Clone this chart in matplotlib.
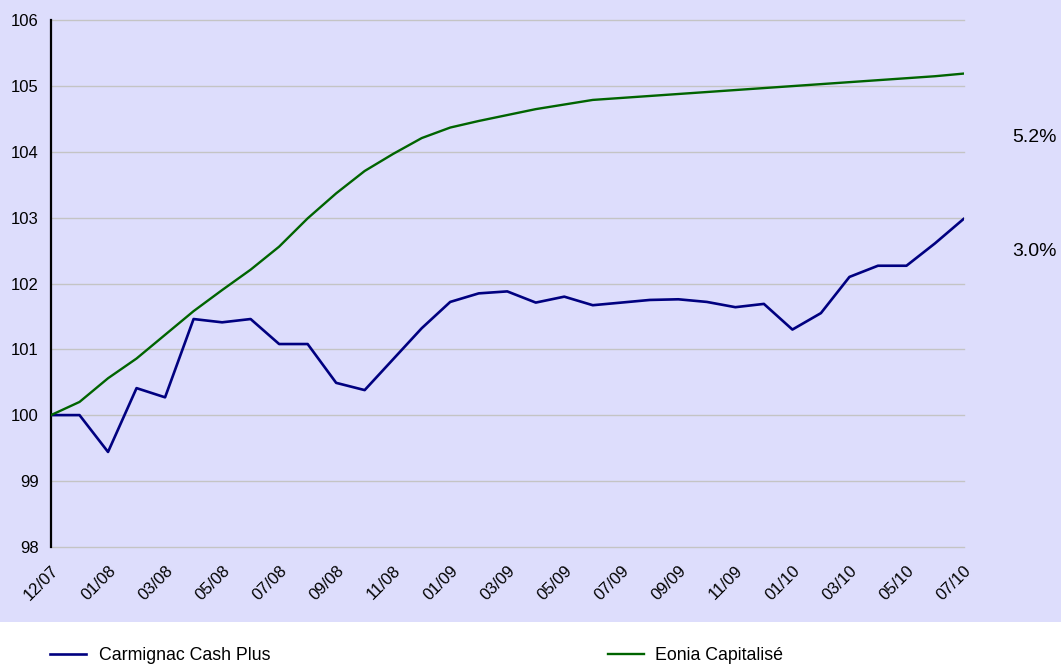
import matplotlib
matplotlib.use("Agg")
import matplotlib.pyplot as plt
import matplotlib.transforms as mtransforms
from matplotlib.patches import Rectangle

plt.rcParams['font.family'] = ['Liberation Sans', 'DejaVu Sans']

# ---- data ----
dates = ["12/07", "12/07", "01/08", "02/08", "03/08", "04/08", "05/08", "06/08",
         "07/08", "08/08", "09/08", "10/08", "11/08", "12/08", "01/09", "02/09",
         "03/09", "04/09", "05/09", "06/09", "07/09", "08/09", "09/09", "10/09",
         "11/09", "12/09", "01/10", "02/10", "03/10", "04/10", "05/10", "06/10",
         "07/10"]
carmignac = [100.00, 100.00, 99.44, 100.41, 100.27, 101.46, 101.41, 101.46,
             101.08, 101.08, 100.49, 100.38, 100.85, 101.32, 101.72, 101.85,
             101.88, 101.71, 101.80, 101.67, 101.71, 101.75, 101.76, 101.72,
             101.64, 101.69, 101.30, 101.55, 102.10, 102.27, 102.27, 102.61,
             102.98]
eonia = [100.00, 100.20, 100.56, 100.86, 101.22, 101.58, 101.90, 102.21,
         102.56, 102.99, 103.37, 103.71, 103.97, 104.21, 104.37, 104.47,
         104.56, 104.65, 104.72, 104.79, 104.82, 104.85, 104.88, 104.91,
         104.94, 104.97, 105.00, 105.03, 105.06, 105.09, 105.12, 105.15,
         105.19]
series_names = ["Carmignac Cash Plus", "Eonia Capitalisé"]
perf_labels = ["5.2%", "3.0%"]
yticks = [98, 99, 100, 101, 102, 103, 104, 105, 106]

W, H = 1061, 665
fig = plt.figure(figsize=(W / 100, H / 100), dpi=100, facecolor='white')

# lavender background panel
bg = Rectangle((0, (H - 621.5) / H), 1, 621.5 / H, transform=fig.transFigure,
               facecolor='#DDDDFC', edgecolor='none', zorder=-10)
fig.patches.append(bg)

ax = fig.add_axes([51 / W, (H - 546.7) / H, (963.5 - 51) / W, (546.7 - 20.3) / H])
ax.set_facecolor('none')
ax.set_zorder(5)

x = list(range(len(dates)))
l1, = ax.plot(x, carmignac, color='#000080', lw=1.9, zorder=3)
l2, = ax.plot(x, eonia, color='#006400', lw=1.7, zorder=3)

ax.set_xlim(0, len(dates) - 1)
ax.set_ylim(98, 106)
ax.set_yticks(yticks)
ax.set_yticklabels([str(v) for v in yticks], fontsize=12)
ax.yaxis.grid(True, color='#C4C4C4', lw=1.0)
for gl in ax.get_ygridlines():
    gl.set_clip_on(False)
ax.set_axisbelow(True)

tick_idx = list(range(0, len(dates), 2))
ax.set_xticks(tick_idx)
ax.set_xticklabels([dates[i] for i in tick_idx], fontsize=12, rotation=45,
                   ha='right', va='top', rotation_mode='anchor')
offset = mtransforms.ScaledTranslation(9 / 100, 0, fig.dpi_scale_trans)
for lab in ax.get_xticklabels():
    lab.set_transform(lab.get_transform() + offset)

ax.tick_params(axis='x', length=0, pad=12)
ax.tick_params(axis='y', length=0, pad=9)

for s in ['top', 'right', 'bottom']:
    ax.spines[s].set_visible(False)
ax.spines['left'].set_color('black')
ax.spines['left'].set_linewidth(1.6)

# performance labels at right
fig.text(1057 / W, (H - 138) / H, perf_labels[0], ha='right', va='center', fontsize=14)
fig.text(1057 / W, (H - 252) / H, perf_labels[1], ha='right', va='center', fontsize=14)

# legends
fig.legend([l1], [series_names[0]], loc='center left',
           bbox_to_anchor=(50 / W, (H - 656) / H), frameon=False,
           fontsize=12.8, handlelength=2.0, handletextpad=0.75,
           borderpad=0, borderaxespad=0)
fig.legend([l2], [series_names[1]], loc='center left',
           bbox_to_anchor=(608 / W, (H - 656) / H), frameon=False,
           fontsize=12.8, handlelength=2.0, handletextpad=0.65,
           borderpad=0, borderaxespad=0)

fig.savefig('out.png', dpi=100, facecolor='white')
